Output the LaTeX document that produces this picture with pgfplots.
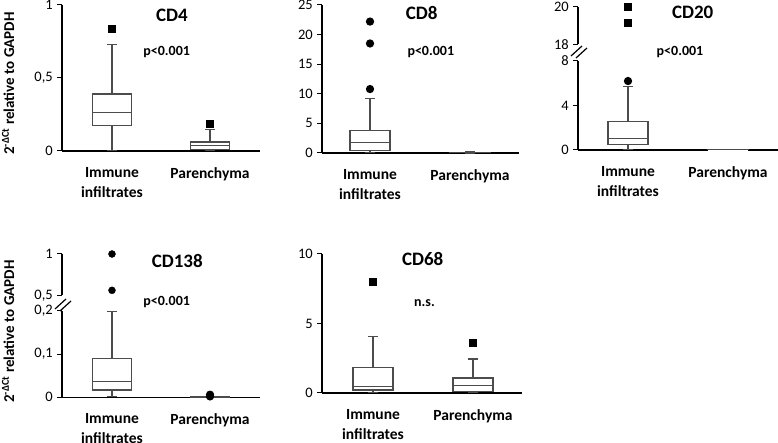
\documentclass[border=0pt]{standalone}
\usepackage{pgfplots}
\pgfplotsset{compat=1.18}
\usepgfplotslibrary{statistics}
\usepackage{fontspec}
\setmainfont{Carlito}
\begin{document}
\begin{tikzpicture}
\useasboundingbox (0pt,0pt) rectangle (778pt,443pt);
\pgfplotsset{
  panel/.style={
    scale only axis, anchor=south west, clip=false,
    axis lines*=left,
    axis line style={line width=1.5pt, black},
    xtick={1,2},
    xticklabels={{Immune\\infiltrates},Parenchyma},
    xtick style={draw=none},
    xticklabel style={font=\fontsize{15.5}{20}\selectfont\bfseries, align=center, anchor=north, inner sep=0pt, yshift=-11pt},
    tick align=outside,
    major tick length=5pt,
    ytick style={line width=1pt, black},
    yticklabel style={font=\fontsize{14.5}{16}\selectfont, anchor=east, inner sep=0pt, xshift=-4pt},
    boxplot/draw direction=y,
    boxplot/box extend=0.4,
    boxplot/whisker extend=0.1,
  },
  upper/.style={
    scale only axis, anchor=south west, clip=false,
    axis x line=none, axis y line*=left,
    axis line style={line width=1.5pt, black},
    tick align=outside,
    major tick length=5pt,
    ytick style={line width=1pt, black},
    yticklabel style={font=\fontsize{14.5}{16}\selectfont, anchor=east, inner sep=0pt, xshift=-4pt},
  },
  bx/.style={draw=black!70, line width=1.2pt, fill=white, solid,
    mark=square*, mark size=3.5pt, mark options={fill=black, draw=black}},
  bxc/.style={bx, mark=*},
  om/.style={only marks, mark=square*, mark size=3.5pt, mark options={fill=black, draw=black}},
  omc/.style={om, mark=*},
}
% ---------------- CD4 ----------------
\begin{axis}[panel, at={(62pt,292pt)}, width=198pt, height=146pt,
  xmin=0.49, xmax=2.51, ymin=0, ymax=1,
  ytick={0,0.5,1}, yticklabels={0,{0,5},1}]
\addplot[bx, boxplot prepared={draw position=1, lower whisker=0.005, lower quartile=0.173, median=0.262, upper quartile=0.39, upper whisker=0.73}]
  table[row sep=\\, y index=0] {data\\ 0.835\\};
\addplot[bx, boxplot prepared={draw position=2, lower whisker=0.003, lower quartile=0.01, median=0.036, upper quartile=0.062, upper whisker=0.146}]
  table[row sep=\\, y index=0] {data\\ 0.187\\};
\end{axis}
% ---------------- CD8 ----------------
\begin{axis}[panel, at={(322pt,290pt)}, width=197pt, height=148pt,
  xmin=0.52, xmax=2.49, ymin=0, ymax=25,
  ytick={0,5,10,15,20,25}, yticklabels={0,5,10,15,20,25}]
\addplot[bxc, boxplot prepared={draw position=1, lower whisker=0.05, lower quartile=0.4, median=1.75, upper quartile=3.85, upper whisker=9.2}]
  table[row sep=\\, y index=0] {data\\ 10.8\\ 18.5\\ 22.2\\};
\addplot[bx, boxplot prepared={draw position=2, lower whisker=0.01, lower quartile=0.04, median=0.08, upper quartile=0.12, upper whisker=0.22}]
  coordinates {};
\end{axis}
% ---------------- CD20 lower ----------------
\begin{axis}[panel, at={(578pt,293pt)}, width=200pt, height=89pt,
  xmin=0.5, xmax=2.5, ymin=0, ymax=8,
  ytick={0,4,8}, yticklabels={0,4,8}]
\addplot[bxc, boxplot prepared={draw position=1, lower whisker=0.05, lower quartile=0.51, median=1.05, upper quartile=2.58, upper whisker=5.69}]
  table[row sep=\\, y index=0] {data\\ 6.2\\};
\addplot[bx, boxplot prepared={draw position=2, lower whisker=0.0, lower quartile=0.01, median=0.02, upper quartile=0.03, upper whisker=0.05}]
  coordinates {};
\end{axis}
% ---------------- CD20 upper ----------------
\begin{axis}[upper, at={(578pt,398.7pt)}, width=200pt, height=37.6pt,
  xmin=0.5, xmax=2.5, ymin=18, ymax=20,
  ytick={18,20}, yticklabels={18,20}]
\addplot[om] coordinates {(1,20.0) (1,19.17)};
\end{axis}
% ---------------- CD138 lower ----------------
\begin{axis}[panel, at={(62pt,45.7pt)}, width=198pt, height=86.3pt,
  xmin=0.49, xmax=2.51, ymin=0, ymax=0.2,
  ytick={0,0.1,0.2}, yticklabels={0,{0,1},{0,2}}]
\addplot[bx, boxplot prepared={draw position=1, lower whisker=0.002, lower quartile=0.017, median=0.036, upper quartile=0.090, upper whisker=0.198}]
  coordinates {};
\addplot[bxc, boxplot prepared={draw position=2, lower whisker=0.0, lower quartile=0.0, median=0.0005, upper quartile=0.001, upper whisker=0.0015}]
  table[row sep=\\, y index=0] {data\\ 0.002\\ 0.006\\};
\end{axis}
% ---------------- CD138 upper ----------------
\begin{axis}[upper, at={(62pt,147.7pt)}, width=198pt, height=41.3pt,
  xmin=0.49, xmax=2.51, ymin=0.5, ymax=1,
  ytick={0.5,1}, yticklabels={{0,5},1}]
\addplot[omc] coordinates {(1,1.0) (1,0.56)};
\end{axis}
% ---------------- CD68 ----------------
\begin{axis}[panel, at={(322pt,50pt)}, width=200pt, height=139pt,
  xmin=0.49, xmax=2.49, ymin=0, ymax=10,
  ytick={0,5,10}, yticklabels={0,5,10}]
\addplot[bx, boxplot prepared={draw position=1, lower whisker=0.03, lower quartile=0.22, median=0.45, upper quartile=1.82, upper whisker=4.05}]
  table[row sep=\\, y index=0] {data\\ 7.96\\};
\addplot[bx, boxplot prepared={draw position=2, lower whisker=0.02, lower quartile=0.12, median=0.55, upper quartile=1.08, upper whisker=2.45}]
  table[row sep=\\, y index=0] {data\\ 3.58\\};
\end{axis}
\begin{scope}[x=1pt,y=1pt]
% ---------------- break marks ----------------
\draw[line width=1.2pt] (571,387) -- (582,397);
\draw[line width=1.2pt] (576,385) -- (587,395);
\draw[line width=1.2pt] (55,134) -- (66,144);
\draw[line width=1.2pt] (60,132) -- (71,142);
% ---------------- titles and annotations ----------------
\tikzset{ttl/.style={font=\fontsize{19}{22}\selectfont\bfseries, inner sep=0pt},
         pv/.style={font=\fontsize{14}{16}\selectfont\bfseries, inner sep=0pt},
         yl/.style={font=\fontsize{15}{18}\selectfont\bfseries, rotate=90, inner sep=0pt, anchor=west}}
\node[ttl] at (172,428) {CD4};
\node[ttl] at (421.7,430) {CD8};
\node[ttl] at (692.7,430.7) {CD20};
\node[ttl] at (177.3,182.3) {CD138};
\node[ttl] at (422.7,183.7) {CD68};
\node[pv] at (166.7,390.7) {p<0.001};
\node[pv] at (430.8,390.7) {p<0.001};
\node[pv] at (680,391.3) {p<0.001};
\node[pv] at (166.7,141.3) {p<0.001};
\node[pv] at (424.5,140.3) {n.s.};
\node[yl] at (8,288) {2\textsuperscript{-ΔCt} relative to GAPDH};
\node[yl] at (8,40) {2\textsuperscript{-ΔCt} relative to GAPDH};
\end{scope}
\end{tikzpicture}
\end{document}
